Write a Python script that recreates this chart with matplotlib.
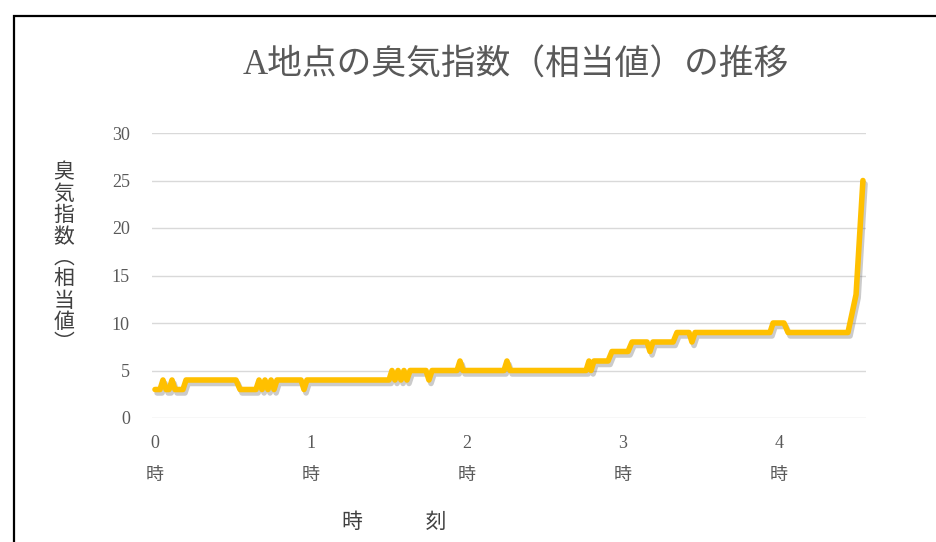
import matplotlib
matplotlib.use("Agg")
import matplotlib.pyplot as plt
import matplotlib.patheffects as pe
from matplotlib.patches import Rectangle

plt.rcParams['font.family'] = ['Liberation Serif', 'Noto Sans CJK JP']

# elapsed time (hours) and odour index
hours = [0.000, 0.032, 0.051, 0.071, 0.090, 0.109, 0.128, 0.179, 0.199, 0.519,
         0.545, 0.647, 0.667, 0.686, 0.705, 0.724, 0.744, 0.763, 0.782, 0.936,
         0.955, 0.974, 1.500, 1.519, 1.538, 1.558, 1.577, 1.596, 1.615, 1.635,
         1.737, 1.756, 1.776, 1.936, 1.955, 1.974, 2.237, 2.256, 2.276, 2.763,
         2.782, 2.795, 2.814, 2.904, 2.929, 3.032, 3.058, 3.154, 3.173, 3.192,
         3.321, 3.346, 3.423, 3.442, 3.462, 3.942, 3.962, 4.032, 4.058, 4.442,
         4.494, 4.538]
odour = [3, 3, 4, 3, 3, 4, 3, 3, 4, 4,
         3, 3, 4, 3, 4, 3, 4, 3, 4, 4,
         3, 4, 4, 5, 4, 5, 4, 5, 4, 5,
         5, 4, 5, 5, 6, 5, 5, 6, 5, 5,
         6, 5, 6, 6, 7, 7, 8, 8, 7, 8,
         8, 9, 9, 8, 9, 9, 10, 10, 9, 9,
         13, 25]
hour_ticks = [0, 1, 2, 3, 4]
hour_labels = [f"{h}\n時" for h in hour_ticks]
y_ticks = [0, 5, 10, 15, 20, 25, 30]

W, H = 936, 542
fig = plt.figure(figsize=(W / 100, H / 100), dpi=100)
ax = fig.add_axes([152 / W, 1 - 418 / H, (866 - 152) / W, (418 - 133) / H])

ax.plot(hours, odour, color='#FFC000', lw=4, solid_joinstyle='round',
        solid_capstyle='round', clip_on=False,
        path_effects=[pe.SimpleLineShadow(offset=(1.5, -2.5), shadow_color='#555555', alpha=0.3),
                      pe.Normal()])

ax.set_xlim(-3 / 156, (866 - 155) / 156)
ax.set_ylim(0, 30)
ax.set_yticks(y_ticks)
ax.set_xticks(hour_ticks)
ax.set_xticklabels(hour_labels)
for lab in ax.get_xticklabels():
    lab.set_linespacing(2.2)
    lab.set_verticalalignment('top')
ax.grid(axis='y', color='#d9d9d9', lw=1)
ax.set_axisbelow(True)
for s in ax.spines.values():
    s.set_visible(False)
ax.tick_params(length=0, labelsize=13, labelcolor='#595959')
ax.tick_params(axis='y', pad=16)
ax.tick_params(axis='x', pad=12)

fig.text(516 / W, 1 - 66 / H, "A地点の臭気指数（相当値）の推移", ha='center', va='center',
         fontsize=25, color='#595959')
fig.text(64 / W, 1 - 259 / H, "\n".join("臭気指数︵相当値︶"), ha='center', va='center',
         fontsize=15, color='#404040', linespacing=1.15)
fig.text(394 / W, 1 - 523 / H, "時　　　刻", ha='center', va='center',
         fontsize=15, color='#404040')

fig.patches.append(Rectangle((14 / W, -0.1), 1.0, 1 - 16 / H + 0.1, transform=fig.transFigure,
                             fill=False, edgecolor='black', lw=1.6))

fig.savefig('out.png', dpi=100)
